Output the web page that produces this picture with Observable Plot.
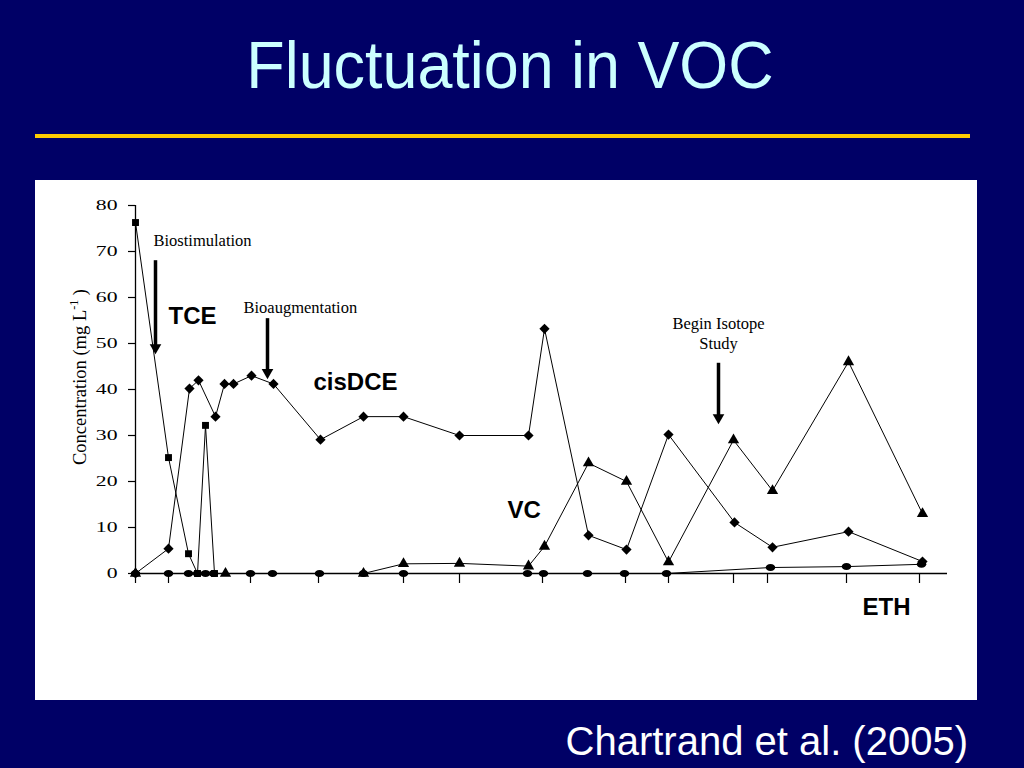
<!DOCTYPE html>
<html>
<head>
<meta charset="utf-8">
<script src="https://cdn.jsdelivr.net/npm/d3@7"></script>
<script src="https://cdn.jsdelivr.net/npm/@observablehq/plot@0.6"></script>
<style>
html, body { margin: 0; padding: 0; }
body { width: 1024px; height: 768px; background: #000066; position: relative; overflow: hidden;
       font-family: "Liberation Sans", Arial, sans-serif; }
#title { position: absolute; left: 0; width: 1024px; top: 32px; text-align: center; color: #ccffff;
         font-size: 66px; line-height: 1; }
#title span { display: inline-block; transform: translateX(-2px) scaleX(0.952); transform-origin: 50% 50%; }
#rule { position: absolute; left: 35px; width: 935px; top: 134px; height: 4px; background: #ffcc00; }
#panel { position: absolute; left: 35px; top: 180px; width: 942px; height: 520px; background: #ffffff; }
#panel svg { position: absolute; left: 0; top: 0; overflow: visible; }
#caption { position: absolute; right: 56px; top: 721px; color: #ffffff; font-size: 40px; line-height: 1; }
</style>
</head>
<body>
<div id="title"><span>Fluctuation in VOC</span></div>
<div id="rule"></div>
<div id="panel"></div>
<div id="caption">Chartrand et al. (2005)</div>
<script>
// ---- data (sampling time in arbitrary units along the unlabeled x axis; concentration in mg/L) ----
const xTicks = [0, 33, 115, 183, 268, 324, 407, 490, 533, 598, 632, 711, 784];
const yTicks = [0, 10, 20, 30, 40, 50, 60, 70, 80];

const tceT = [0, 33, 53, 62, 70, 79];
const tceV = [76.3, 25.2, 4.3, 0, 32.2, 0];

const dceT = [0, 33, 54, 63, 80, 89, 98, 116, 138, 185, 228, 268, 324, 393, 409, 453, 491, 533, 599, 637, 713, 787];
const dceV = [0, 5.4, 40.2, 42.0, 34.1, 41.2, 41.2, 43.0, 41.2, 29.1, 34.1, 34.1, 30.0, 30.0, 53.2, 8.3, 5.2, 30.2, 11.1, 5.7, 9.1, 2.6];

const vcT = [0, 90, 228, 268, 324, 393, 409, 453, 491, 533, 598, 637, 713, 787];
const vcV = [0, 0, 0, 2.1, 2.2, 1.6, 5.9, 24.0, 20.0, 2.5, 29.0, 18.0, 46.0, 13.0];

const ethT = [0, 33, 53, 62, 70, 78, 115, 137, 184, 228, 268, 392, 408, 452, 489, 531, 635, 711, 786];
const ethV = [0, 0, 0, 0, 0, 0, 0, 0, 0, 0, 0, 0, 0, 0, 0, 0, 1.3, 1.5, 2.0];

// event arrows
const eventNames = ["Biostimulation", "Bioaugmentation", "Begin Isotope\nStudy"];
const eventT = [20, 132, 583];
const eventTop = [68.0, 55.4, 45.7];
const eventTip = [47.8, 42.4, 32.6];
const eventLabelT = [18, 108, 583];
const eventLabelV = [72.4, 57.8, 52.4];
const eventAnchor = ["start", "start", "middle"];

// series labels
const seriesNames = ["TCE", "cisDCE", "VC", "ETH"];
const seriesLabelT = [33, 178, 372, 727];
const seriesLabelV = [55.9, 41.5, 13.8, -7.4];

// ---- build tables ----
const toRows = (T, V) => T.map((t, i) => ({t, v: V[i]}));
const tce = toRows(tceT, tceV);
const dce = toRows(dceT, dceV);
const vc = toRows(vcT, vcV);
const eth = toRows(ethT, ethV);
const events = eventNames.map((name, i) => ({
  name, t: eventT[i], top: eventTop[i], tip: eventTip[i],
  lt: eventLabelT[i], lv: eventLabelV[i], anchor: eventAnchor[i]
}));
const labels = seriesNames.map((name, i) => ({name, t: seriesLabelT[i], v: seriesLabelV[i]}));

const ellipse = {
  draw(ctx, size) {
    const r = Math.sqrt(size / Math.PI), rx = r * 1.2, ry = r * 0.88, k = 0.5523;
    ctx.moveTo(rx, 0);
    ctx.bezierCurveTo(rx, ry * k, rx * k, ry, 0, ry);
    ctx.bezierCurveTo(-rx * k, ry, -rx, ry * k, -rx, 0);
    ctx.bezierCurveTo(-rx, -ry * k, -rx * k, -ry, 0, -ry);
    ctx.bezierCurveTo(rx * k, -ry, rx, -ry * k, rx, 0);
    ctx.closePath();
  }
};

const line = (data) => Plot.line(data, {x: d => d.t, y: d => d.v, stroke: "black", strokeWidth: 1});
const dots = (data, symbol, r) => Plot.dot(data, {x: d => d.t, y: d => d.v, symbol, r, fill: "black", stroke: "none"});

const chart = Plot.plot({
  width: 942,
  height: 520,
  marginLeft: 100,
  marginRight: 30,
  marginTop: 25,
  marginBottom: 127,
  style: {fontFamily: "'Liberation Serif', 'Times New Roman', serif", fontSize: "16px", background: "transparent", color: "black", overflow: "visible"},
  x: {domain: [0, 812], axis: null},
  y: {domain: [0, 80], axis: null},
  marks: [
    Plot.axisY({ticks: yTicks, tickSize: 7, tickPadding: 11, label: null, fontSize: 15.5, stroke: "black", strokeWidth: 1.2}),
    Plot.axisX({ticks: xTicks, tickSize: 10, tickFormat: () => "", label: null, stroke: "black", strokeWidth: 1.2}),
    Plot.ruleX([0], {y1: 0, y2: 80, stroke: "black", strokeWidth: 1.3}),
    Plot.ruleY([0], {x1: 0, x2: 812, stroke: "black", strokeWidth: 1.3}),
    line(tce), line(dce), line(vc), line(eth),
    dots(tce, "square", 3.9),
    dots(dce, "diamond2", 4.6),
    dots(vc, "triangle", 4.2),
    dots(eth, ellipse, 4.0),
    // event arrows
    Plot.ruleX(events, {x: "t", y1: "top", y2: d => d.tip + 1.6, stroke: "black", strokeWidth: 3.5}),
    Plot.dot(events, {x: "t", y: "tip", dy: -6, symbol: "triangle", rotate: 180, r: 4.3, fill: "black", stroke: "none"}),
    Plot.text(events.filter(d => d.anchor === "start"), {x: "lt", y: "lv", text: "name", textAnchor: "start", fontSize: 16.5, fill: "black"}),
    Plot.text(events.filter(d => d.anchor === "middle"), {x: "lt", y: "lv", text: "name", textAnchor: "middle", fontSize: 16.5, lineHeight: 1.22, fill: "black"}),
    // series labels
    Plot.text(labels, {x: "t", y: "v", text: "name", textAnchor: "start", fontFamily: "'Liberation Sans', Arial, sans-serif", fontWeight: "bold", fontSize: 24, fill: "black"})
  ]
});

const svg = d3.select(chart);
// widen the y tick labels (the original figure's digits are horizontally stretched)
svg.selectAll("g[aria-label='y-axis tick label'] text").each(function () {
  const t = this.getAttribute("transform") || "";
  this.setAttribute("transform", t + " scale(1.4,1)");
});

// y axis title with superscript
const yl = svg.append("text")
  .attr("transform", "translate(51,197) rotate(-90)")
  .attr("text-anchor", "middle")
  .attr("font-family", "'Liberation Serif', 'Times New Roman', serif")
  .attr("font-size", 18.5)
  .attr("fill", "black");
yl.append("tspan").text("Concentration (mg L");
yl.append("tspan").attr("font-size", 12).attr("dy", -8).text("-1");
yl.append("tspan").attr("dy", 8).text(" )");

document.getElementById("panel").appendChild(chart);
</script>
</body>
</html>
